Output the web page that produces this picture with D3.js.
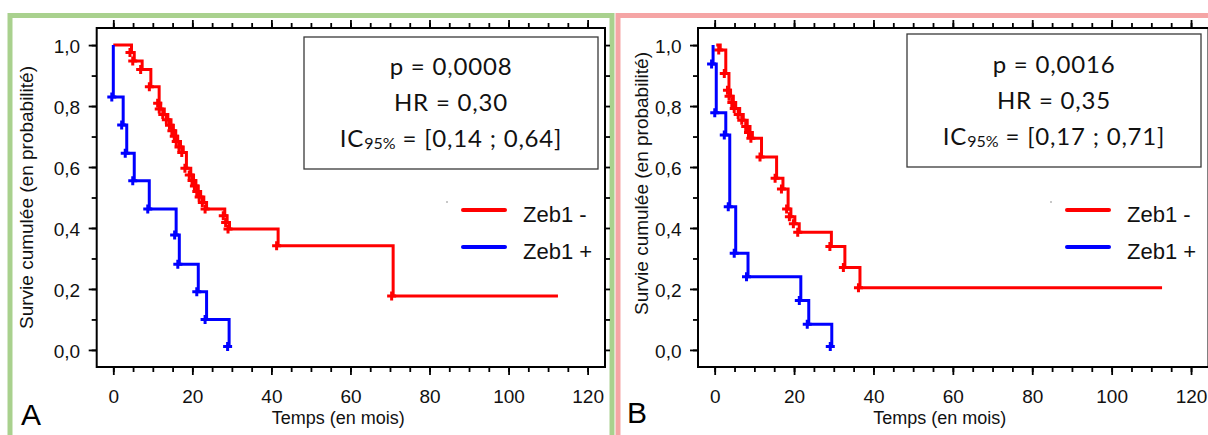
<!DOCTYPE html>
<html><head><meta charset="utf-8">
<script src="https://cdn.jsdelivr.net/npm/d3@7"></script>
<style>body{margin:0;background:#fff}svg{display:block}</style>
</head><body>
<svg id="c" width="1208" height="435"></svg>
<script>
// ---------- DATA ----------
const panelLabels = ["A", "B"];
const seriesNames = ["Zeb1 -", "Zeb1 +"];
const seriesColors = ["#ff0000", "#0000ff"];
const timeTicks = [0, 20, 40, 60, 80, 100, 120];
const timeMinorTicks = d3.range(0, 121, 5);
const survTicks = [0, 0.2, 0.4, 0.6, 0.8, 1.0];
const survMinorTicks = d3.range(0, 11).map(d => d / 10);
const xTitle = "Temps (en mois)";
const yTitle = "Survie cumulée (en probabilité)";

const statsA_p = "p = 0,0008", statsA_hr = "HR = 0,30", statsA_ci = " = [0,14 ; 0,64]";
const statsB_p = "p = 0,0016", statsB_hr = "HR = 0,35", statsB_ci = " = [0,17 ; 0,71]";

// Panel A — Zeb1 - (red)
const redA_time = [0, 4.6, 5.3, 7.3, 9.5, 11.6, 12.0, 12.9, 13.8, 14.6, 15.2, 15.8, 16.3, 17.0, 17.7, 18.5, 19.6, 20.3, 20.9, 21.5, 22.1, 22.9, 23.6, 28.2, 28.8, 29.4, 41.7, 70.8];
const redA_surv = [1, 0.976, 0.948, 0.920, 0.863, 0.809, 0.790, 0.772, 0.755, 0.737, 0.719, 0.701, 0.684, 0.666, 0.648, 0.596, 0.574, 0.556, 0.538, 0.520, 0.502, 0.484, 0.462, 0.440, 0.418, 0.397, 0.342, 0.177];
const redA_end = 112.5;
// Panel A — Zeb1 + (blue)
const blueA_time = [0, 0, 2.5, 3.4, 5.3, 9.1, 15.9, 16.7, 21.5, 23.6, 29.3];
const blueA_surv = [1, 0.830, 0.738, 0.645, 0.555, 0.462, 0.377, 0.281, 0.191, 0.100, 0.011];
// Panel B — Zeb1 - (red)
const redB_time = [0.4, 1.4, 2.8, 3.6, 4.0, 4.7, 5.3, 6.3, 7.2, 8.2, 8.9, 9.5, 11.8, 15.6, 17.2, 18.5, 19.2, 20.2, 21.3, 29.4, 32.8, 36.6];
const redB_surv = [1, 0.984, 0.907, 0.852, 0.832, 0.812, 0.792, 0.772, 0.753, 0.733, 0.713, 0.694, 0.633, 0.563, 0.528, 0.462, 0.437, 0.414, 0.386, 0.339, 0.270, 0.204];
const redB_end = 112.7;
// Panel B — Zeb1 + (blue)
const blueB_time = [-0.4, -0.4, 0.4, 2.8, 3.8, 5.3, 8.4, 21.7, 23.7, 29.5];
const blueB_surv = [1, 0.938, 0.778, 0.705, 0.470, 0.317, 0.240, 0.162, 0.084, 0.011];

// ---------- LAYOUT ----------
const FONT = "'Liberation Sans', Arial, sans-serif";
const BOXFONT = "Lato, 'Open Sans', sans-serif";
const svg = d3.select("#c");

svg.append("rect").attr("x", 10).attr("y", 15.5).attr("width", 602).attr("height", 500)
  .attr("fill", "none").attr("stroke", "#a9d18e").attr("stroke-width", 5);
svg.append("rect").attr("x", 618).attr("y", 15.5).attr("width", 700).attr("height", 500)
  .attr("fill", "none").attr("stroke", "#f5a5a5").attr("stroke-width", 5);

const panels = [
  { label: panelLabels[0], left: 96.7, right: 605, labelX: 21, labelY: 425,
    titleX: 33, titleY: 197.5, box: [304, 37, 294, 132], textX: 451, textY0: 75,
    stats: [statsA_p, statsA_hr, statsA_ci], legX: 463, dot: [447, 202],
    series: [{ t: redA_time, s: redA_surv, end: redA_end }, { t: blueA_time, s: blueA_surv }] },
  { label: panelLabels[1], left: 698, right: 1208.5, labelX: 627, labelY: 423,
    titleX: 648, titleY: 183.5, box: [907, 34, 294, 133], textX: 1054, textY0: 73,
    stats: [statsB_p, statsB_hr, statsB_ci], legX: 1067, dot: [1051, 202],
    series: [{ t: redB_time, s: redB_surv, end: redB_end }, { t: blueB_time, s: blueB_surv }] }
];
const TOP = 28, BOTTOM = 367;
const fmt = d => d3.format(".1f")(d).replace(".", ",");

panels.forEach(p => {
  const g = svg.append("g");
  const x = d3.scaleLinear().domain([-4.2, 124.4]).range([p.left, p.right]);
  const y = d3.scaleLinear().domain([-0.056, 1.056]).range([BOTTOM, TOP]);

  const styleAxis = (sel) => {
    sel.select(".domain").remove();
    sel.selectAll(".tick line").attr("stroke", "#000").attr("stroke-width", 1.8);
    sel.selectAll("text").attr("font-family", FONT).attr("font-size", 19).attr("fill", "#111");
  };
  // bottom
  g.append("g").attr("transform", `translate(0,${BOTTOM})`)
    .call(d3.axisBottom(x).tickValues(timeMinorTicks).tickSize(5).tickFormat("")).call(styleAxis);
  g.append("g").attr("transform", `translate(0,${BOTTOM})`)
    .call(d3.axisBottom(x).tickValues(timeTicks).tickSize(8).tickPadding(15).tickFormat(d3.format("d"))).call(styleAxis);
  // top
  g.append("g").attr("transform", `translate(0,${TOP})`)
    .call(d3.axisTop(x).tickValues(timeMinorTicks).tickSize(5).tickFormat("")).call(styleAxis);
  g.append("g").attr("transform", `translate(0,${TOP})`)
    .call(d3.axisTop(x).tickValues(timeTicks).tickSize(8).tickFormat("")).call(styleAxis);
  // left
  g.append("g").attr("transform", `translate(${p.left},0)`)
    .call(d3.axisLeft(y).tickValues(survMinorTicks).tickSize(5).tickFormat("")).call(styleAxis);
  const la = g.append("g").attr("transform", `translate(${p.left},0)`)
    .call(d3.axisLeft(y).tickValues(survTicks).tickSize(8).tickPadding(8.5).tickFormat(fmt)).call(styleAxis);
  la.selectAll("text").attr("dy", "0.38em");
  // right
  g.append("g").attr("transform", `translate(${p.right},0)`)
    .call(d3.axisRight(y).tickValues(survMinorTicks).tickSize(5).tickFormat("")).call(styleAxis);
  // frame
  g.append("rect").attr("x", p.left).attr("y", TOP).attr("width", p.right - p.left).attr("height", BOTTOM - TOP)
    .attr("fill", "none").attr("stroke", "#000").attr("stroke-width", 2);

  // titles
  g.append("text").attr("x", x(0) + 225).attr("y", 424).attr("text-anchor", "middle")
    .attr("font-family", FONT).attr("font-size", 18).attr("fill", "#111").text(xTitle);
  g.append("text").attr("transform", `translate(${p.titleX},${p.titleY}) rotate(-90)`).attr("text-anchor", "middle")
    .attr("font-family", FONT).attr("font-size", 19).attr("fill", "#111").text(yTitle);
  g.append("text").attr("x", p.labelX).attr("y", p.labelY)
    .attr("font-family", FONT).attr("font-size", 30).attr("fill", "#000").text(p.label);

  // curves
  const line = d3.line().x(d => x(d[0])).y(d => y(d[1])).curve(d3.curveStepAfter);
  p.series.forEach((s, i) => {
    const pts = s.t.map((t, k) => [t, s.s[k]]);
    const linePts = s.end !== undefined ? pts.concat([[s.end, s.s[s.s.length - 1]]]) : pts;
    g.append("path").datum(linePts).attr("d", line).attr("fill", "none")
      .attr("stroke", seriesColors[i]).attr("stroke-width", 3).attr("stroke-linejoin", "miter");
    g.selectAll(null).data(pts.slice(1)).enter().append("path")
      .attr("transform", d => `translate(${x(d[0]) - 1.5},${y(d[1])})`)
      .attr("d", "M-4.5,0H4.5M0,-4.5V4.5")
      .attr("stroke", seriesColors[i]).attr("stroke-width", 3).attr("fill", "none");
  });

  // stats box
  const [bx, by, bw, bh] = p.box;
  g.append("rect").attr("x", bx).attr("y", by).attr("width", bw).attr("height", bh)
    .attr("fill", "#fff").attr("stroke", "#3a3a3a").attr("stroke-width", 1.3);
  const tstyle = sel => sel.attr("text-anchor", "middle").attr("font-family", BOXFONT)
    .attr("font-size", 24).attr("letter-spacing", "0.8px").attr("fill", "#111");
  g.append("text").attr("x", p.textX).attr("y", p.textY0).call(tstyle).text(p.stats[0]);
  g.append("text").attr("x", p.textX).attr("y", p.textY0 + 36).call(tstyle).text(p.stats[1]);
  const ci = g.append("text").attr("x", p.textX).attr("y", p.textY0 + 72).call(tstyle);
  ci.append("tspan").text("IC");
  ci.append("tspan").attr("font-size", 16).attr("dy", 2).attr("letter-spacing", "0px").text("95%");
  ci.append("tspan").attr("dy", -2).text(p.stats[2]);

  // legend
  seriesNames.forEach((name, i) => {
    const ly = 210 + i * 37;
    g.append("line").attr("x1", p.legX).attr("x2", p.legX + 42).attr("y1", ly).attr("y2", ly)
      .attr("stroke", seriesColors[i]).attr("stroke-width", 4).attr("stroke-linecap", "round");
    g.append("text").attr("x", p.legX + 60).attr("y", ly + 11.5)
      .attr("font-family", FONT).attr("font-size", 22).attr("fill", "#111").text(name);
  });
  g.append("circle").attr("cx", p.dot[0]).attr("cy", p.dot[1]).attr("r", 0.7).attr("fill", "#666");
});
</script>
</body></html>
